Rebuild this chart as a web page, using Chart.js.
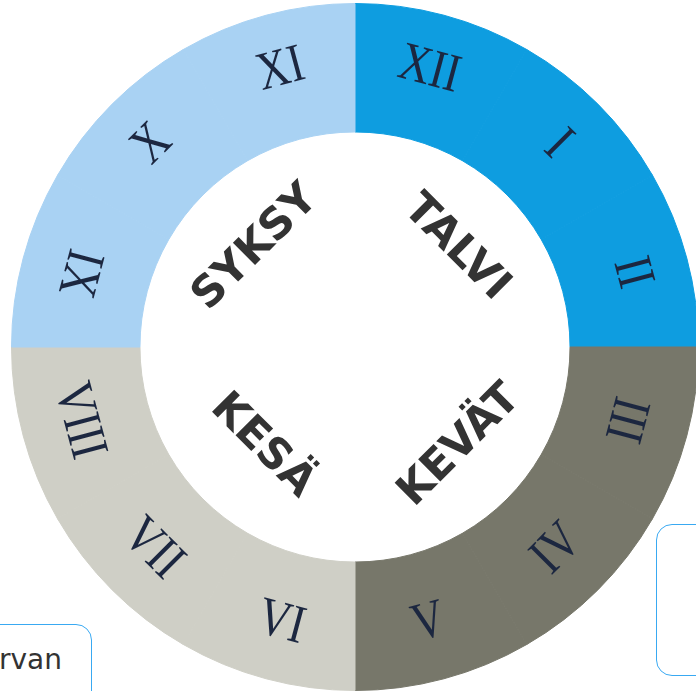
<!DOCTYPE html>
<html>
<head>
<meta charset="utf-8">
<script src="https://cdn.jsdelivr.net/npm/chart.js@4.4.1/dist/chart.umd.min.js"></script>
<style>
  html, body { margin: 0; padding: 0; background: #fff; overflow: hidden; }
  body { width: 696px; height: 691px; position: relative; }
  #wrap { position: absolute; left: 5px; top: -3px; width: 700px; height: 700px; }
  .box { position: absolute; border: 1.5px solid #39a9f2; border-radius: 16px; background: #fff; }
  #boxLeft { left: -30px; top: 624px; width: 120px; height: 120px; }
  #boxLeft span { position: absolute; left: 28px; top: 18px; font: 28px "DejaVu Sans", sans-serif; color: #333; }
  #boxRight { left: 656px; top: 524px; width: 100px; height: 150px; }
</style>
</head>
<body>
<div id="wrap"><canvas id="clock" width="700" height="700"></canvas></div>
<div class="box" id="boxLeft"><span>rvan</span></div>
<div class="box" id="boxRight"></div>
<script>
// kuukaudet myötäpäivään ylhäältä alkaen
const months = ["XII", "I", "II", "III", "IV", "V", "VI", "VII", "VIII", "IX", "X", "XI"];
const monthValues = [1, 1, 1, 1, 1, 1, 1, 1, 1, 1, 1, 1];
const seasons = ["TALVI", "KEVÄT", "KESÄ", "SYKSY"];
const seasonColors = ["#0e9de0", "#77776a", "#cfcfc6", "#a9d2f3"];

const monthColors = months.map((m, i) => seasonColors[Math.floor(i / 3)]);

// roomalaiset numerot renkaaseen + vuodenajat keskelle
const clockLabels = {
  id: "clockLabels",
  afterDatasetsDraw(chart) {
    const ctx = chart.ctx;
    const arcs = chart.getDatasetMeta(0).data;
    ctx.save();
    ctx.fillStyle = "#1c2740";
    ctx.textAlign = "center";
    ctx.textBaseline = "middle";
    arcs.forEach((arc, i) => {
      const p = arc.getProps(["x", "y", "startAngle", "endAngle", "innerRadius", "outerRadius"]);
      const a = (p.startAngle + p.endAngle) / 2;
      const r = (p.innerRadius + p.outerRadius) / 2 + 7;
      const x = p.x + Math.cos(a) * r;
      const y = p.y + Math.sin(a) * r;
      let rot = a + Math.PI / 2;
      // kiertokulma ylhäältä asteina
      const deg = (rot * 180 / Math.PI + 360) % 360;
      if (deg > 100 && deg < 290) rot -= Math.PI;
      ctx.save();
      ctx.translate(x, y);
      ctx.rotate(rot);
      ctx.scale(0.82, 1);
      ctx.font = '54px "Liberation Serif", serif';
      ctx.fillText(months[i], 0, 0);
      ctx.restore();
    });

    const c = arcs[0];
    const cx = c.x, cy = c.y;
    const d = 140;
    const pos = [[1, -1, Math.PI / 4, 2], [1, 1, -Math.PI / 4, 6], [-1, 1, Math.PI / 4, 6], [-1, -1, -Math.PI / 4, 0]];
    ctx.fillStyle = "#333333";
    ctx.font = 'bold 43px "DejaVu Sans", sans-serif';
    seasons.forEach((s, i) => {
      ctx.save();
      ctx.translate(cx + pos[i][0] * d * 0.7071 + pos[i][3], cy + pos[i][1] * d * 0.7071);
      ctx.rotate(pos[i][2]);
      ctx.fillText(s, 0, 0);
      ctx.restore();
    });
    ctx.restore();
  }
};

new Chart(document.getElementById("clock"), {
  type: "doughnut",
  data: {
    labels: months,
    datasets: [{
      data: monthValues,
      backgroundColor: monthColors,
      borderColor: monthColors,
      borderWidth: 1
    }]
  },
  options: {
    responsive: false,
    animation: false,
    cutout: "62.6%",
    layout: { padding: 6 },
    plugins: {
      legend: { display: false },
      tooltip: { enabled: false }
    }
  },
  plugins: [clockLabels]
});
</script>
</body>
</html>
